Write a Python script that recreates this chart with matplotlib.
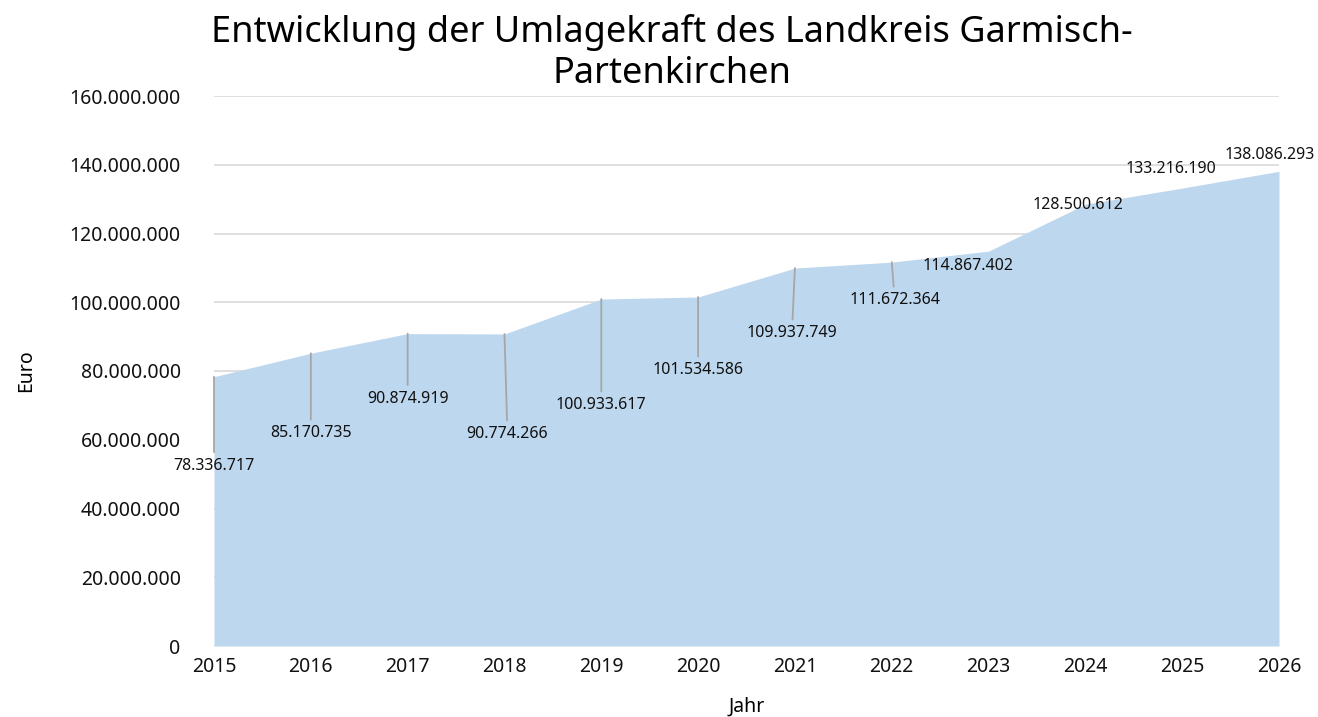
import matplotlib.pyplot as plt
import numpy as np

plt.rcParams['font.family'] = ['Noto Sans', 'DejaVu Sans']

# Daten
jahre = [2015, 2016, 2017, 2018, 2019, 2020, 2021, 2022, 2023, 2024, 2025, 2026]
umlagekraft = [78336717, 85170735, 90874919, 90774266, 100933617, 101534586,
               109937749, 111672364, 114867402, 128500612, 133216190, 138086293]
y_ticks = [0, 20000000, 40000000, 60000000, 80000000, 100000000, 120000000, 140000000, 160000000]

# Versatz der Beschriftungen (Pixel, x / y nach unten)
label_dx = [0, 0, 0, 3, 0, 0, -3, 3, -21, -7, -11, -9]
label_dy = [89, 80, 65, 100, 106, 73, 65, 38, 15, 1, -19, -16]


def fmt(v):
    return f'{v:,.0f}'.replace(',', '.')


fig = plt.figure(figsize=(13.18, 7.17), dpi=100)
ax = fig.add_axes([214 / 1318, (717 - 646) / 717, (1279 - 214) / 1318, 550 / 717])

ax.fill_between(jahre, umlagekraft, 0, color='#BDD7EE', linewidth=0, zorder=2)

ax.set_xlim(jahre[0], jahre[-1])
ax.set_ylim(0, 160000000)
ax.set_xticks(jahre)
ax.set_yticks(y_ticks)
ax.set_yticklabels([fmt(t) for t in y_ticks])
ax.tick_params(axis='both', length=0, labelsize=14, colors='#111111')
ax.tick_params(axis='y', pad=24)
ax.tick_params(axis='x', pad=8)
ax.grid(axis='y', color='#D9D9D9', linewidth=1.2, zorder=1)
for s in ax.spines.values():
    s.set_visible(False)

for x, v, dx, dy in zip(jahre, umlagekraft, label_dx, label_dy):
    arrow = dict(arrowstyle='-', color='#A6A6A6', lw=1.3, shrinkA=2, shrinkB=0) if dy > 30 else None
    ax.annotate(fmt(v), xy=(x, v), xytext=(dx, -dy), textcoords='offset pixels',
                ha='center', va='center', fontsize=11.5, color='#111111',
                arrowprops=arrow, zorder=4, annotation_clip=False)

ax.set_xlabel('Jahr', fontsize=14, labelpad=14)
ax.set_ylabel('Euro', fontsize=14, labelpad=24)

fig.suptitle('Entwicklung der Umlagekraft des Landkreis Garmisch-\nPartenkirchen',
             x=0.51, y=0.98, fontsize=26, linespacing=1.18)

fig.savefig('out.png', dpi=100)
